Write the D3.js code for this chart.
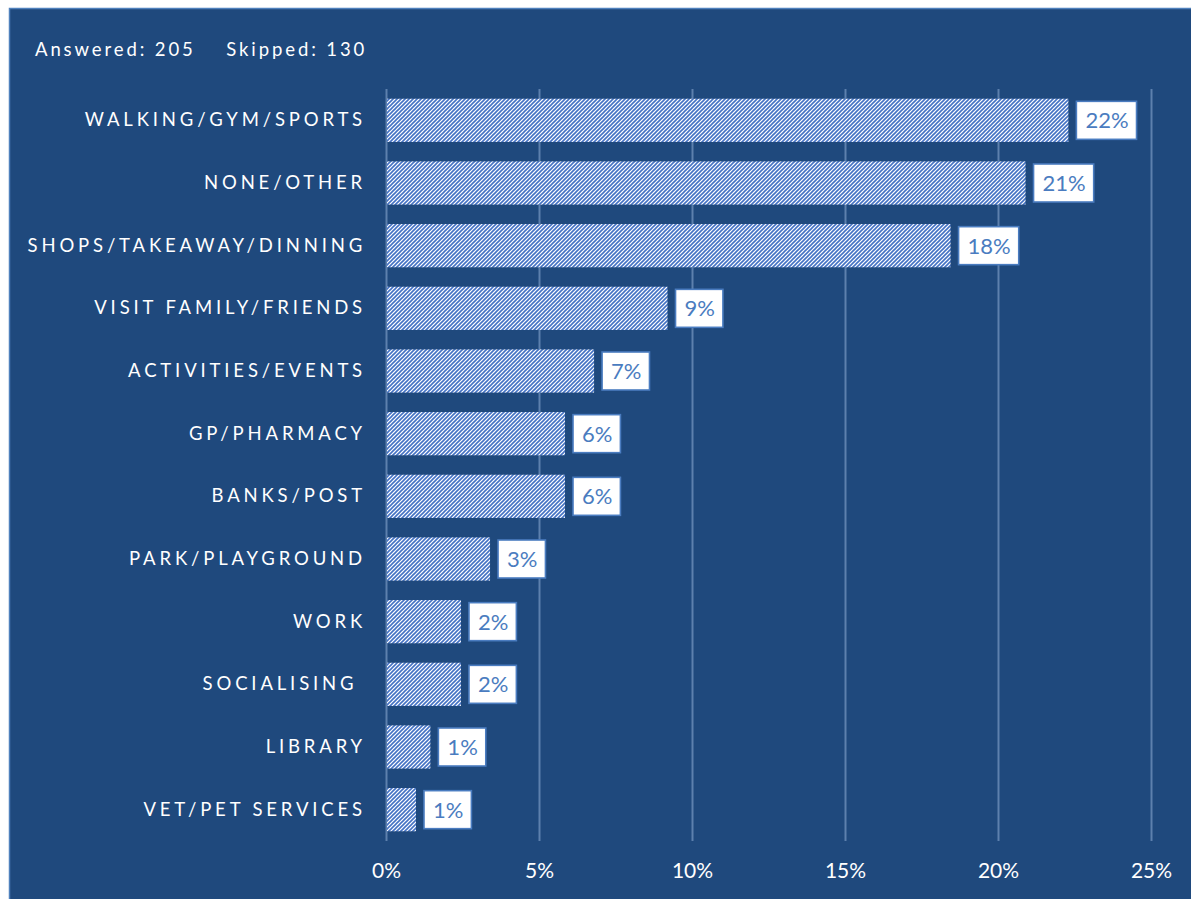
<!DOCTYPE html>
<html>
<head>
<meta charset="utf-8">
<script src="https://cdn.jsdelivr.net/npm/d3@7"></script>
<style>
  html, body { margin: 0; padding: 0; background: #ffffff; }
  svg { display: block; }
  text { font-family: Lato, "Open Sans", sans-serif; }
</style>
</head>
<body>
<svg id="chart" width="1191" height="899"></svg>
<script>
// Survey responses: where people go (share of respondents, %)
const categories = [
  "WALKING/GYM/SPORTS",
  "NONE/OTHER",
  "SHOPS/TAKEAWAY/DINNING",
  "VISIT FAMILY/FRIENDS",
  "ACTIVITIES/EVENTS",
  "GP/PHARMACY",
  "BANKS/POST",
  "PARK/PLAYGROUND",
  "WORK",
  "SOCIALISING ",
  "LIBRARY",
  "VET/PET SERVICES"
];
const shares = [22.3, 20.9, 18.45, 9.2, 6.8, 5.85, 5.85, 3.4, 2.45, 2.45, 1.45, 0.98];
const tickValues = [0, 5, 10, 15, 20, 25];
const summaryText = "Answered: 205    Skipped: 130";

const data = categories.map((c, i) => ({ category: c, value: shares[i] }));

const W = 1191, H = 899;
const svg = d3.select("#chart");

const bg = "#1f497d";
const hatch = "#4472c4";
const gridColor = "#5d80ad";

// Chart background panel
svg.append("rect")
  .attr("x", 9.5).attr("y", 8.5)
  .attr("width", W).attr("height", H)
  .attr("fill", bg)
  .attr("stroke", "#4f81bd").attr("stroke-width", 1.5);

// Diagonal hatch fill for the bars
const defs = svg.append("defs");
const pat = defs.append("pattern")
  .attr("id", "hatch")
  .attr("patternUnits", "userSpaceOnUse")
  .attr("width", 4).attr("height", 4);
pat.append("rect").attr("width", 4).attr("height", 4).attr("fill", "#ffffff");
pat.append("path")
  .attr("d", "M-1,1 l2,-2 M0,4 l4,-4 M3,5 l2,-2")
  .attr("stroke", hatch).attr("stroke-width", 1.6);

// Scales
const x = d3.scaleLinear().domain([0, 25]).range([386, 1151]);
const y = d3.scaleBand().domain(categories).range([89, 841])
  .paddingInner(0.31).paddingOuter(0.155);

// Gridlines and x-axis labels
const xAxis = d3.axisBottom(x)
  .tickValues(tickValues)
  .tickSize(-(841 - 89))
  .tickPadding(22)
  .tickFormat(d => d + "%");

const gx = svg.append("g")
  .attr("transform", "translate(0,841)")
  .call(xAxis);
gx.select(".domain").remove();
gx.selectAll(".tick line")
  .attr("stroke", gridColor).attr("stroke-width", 2);
gx.selectAll(".tick text")
  .attr("fill", "#ffffff")
  .attr("font-size", 21)
  .style("font-family", "Lato, 'Open Sans', sans-serif");

// Category labels
const yAxis = d3.axisLeft(y).tickSize(0).tickPadding(0);
const gy = svg.append("g")
  .attr("transform", "translate(366,0)")
  .call(yAxis);
gy.select(".domain").remove();
gy.selectAll(".tick text")
  .attr("fill", "#ffffff")
  .attr("font-size", 18.5)
  .attr("letter-spacing", "3.85px")
  .style("white-space", "pre")
  .style("font-family", "Lato, 'Open Sans', sans-serif");

// Bars
svg.append("g").selectAll("rect")
  .data(data)
  .join("rect")
  .attr("x", x(0) + 1)
  .attr("y", d => y(d.category))
  .attr("width", d => x(d.value) - x(0) - 1)
  .attr("height", y.bandwidth())
  .attr("fill", "url(#hatch)");

// Value labels in white boxes
const fmt = d3.format(".0%");
const labels = svg.append("g").selectAll("g")
  .data(data)
  .join("g")
  .attr("transform", d => `translate(${x(d.value) + 8},${y(d.category) + y.bandwidth() / 2})`);

labels.append("text")
  .attr("class", "val")
  .attr("x", 9)
  .attr("dy", "0.36em")
  .attr("fill", "#4a7cc0")
  .attr("font-size", 22)
  .text(d => fmt(d.value / 100));

labels.each(function () {
  const g = d3.select(this);
  const t = g.select("text");
  const bb = t.node().getBBox();
  g.insert("rect", "text")
    .attr("x", 0)
    .attr("y", -19)
    .attr("width", bb.width + 17)
    .attr("height", 38)
    .attr("fill", "#ffffff")
    .attr("stroke", "#4a7cc0")
    .attr("stroke-width", 1.6);
});

// Response summary
svg.append("text")
  .attr("x", 35).attr("y", 56)
  .attr("fill", "#ffffff")
  .attr("font-size", 18.5)
  .attr("letter-spacing", "2.9px")
  .style("white-space", "pre")
  .text(summaryText);
</script>
</body>
</html>
